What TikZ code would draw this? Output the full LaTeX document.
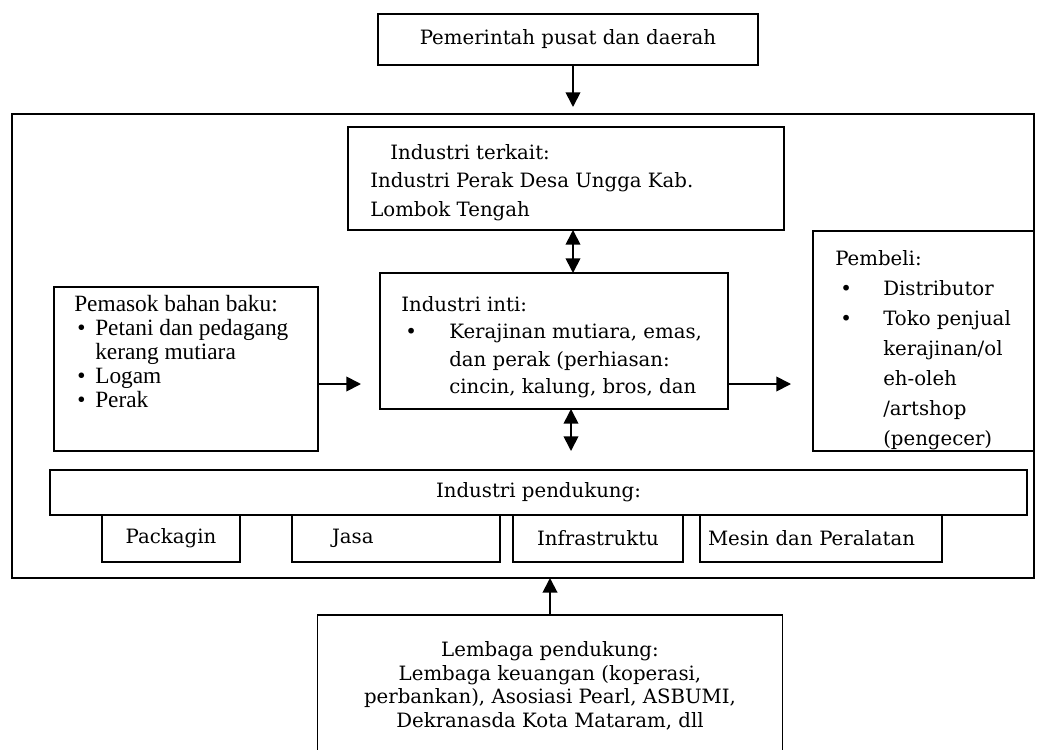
\documentclass[tikz,border=0pt]{standalone}
\usepackage{fontspec}
\setmainfont{Liberation Serif}
\newfontfamily\cambria{DejaVu Serif}
\usetikzlibrary{arrows.meta,positioning,calc}

\begin{document}
\begin{tikzpicture}[x=0.75pt,y=-0.75pt,
    blk/.style={draw,line width=1.1pt,inner sep=0pt,outer sep=0pt},
    txt/.style={inner sep=0pt,align=left,anchor=north west},
    cfont/.style={font=\cambria\fontsize{14.8pt}{#1}\selectfont},
    cfont/.default=21.5pt,
    tfont/.style={font=\fontsize{17.5pt}{18pt}\selectfont},
    arr/.style={line width=1.3pt,-{Triangle[length=11pt,width=11pt]}},
    darr/.style={line width=1.3pt,{Triangle[length=11pt,width=11pt]}-{Triangle[length=11pt,width=11pt]}}]
  \useasboundingbox (0,0) rectangle (1045,749);
  \clip (0,0) rectangle (1045,749);

  % Pemerintah
  \node[blk,cfont,minimum width=285pt,minimum height=38.25pt] (pemerintah) at (568,39.5) {Pemerintah pusat dan daerah};

  % kluster (bingkai luar)
  \node[blk,minimum width=766.5pt,minimum height=348pt] (kluster) at (523,346) {};

  % Industri terkait
  \node[blk,minimum width=327pt,minimum height=77.25pt] (terkait) at (566,178.5) {};
  \begin{scope}
    \clip (terkait.south west) rectangle (terkait.north east);
    \node[txt,cfont=21.5pt] (terkaittxt) at (370,144) {\hspace*{15pt}Industri terkait:\\Industri Perak Desa Ungga Kab.\\Lombok Tengah};
  \end{scope}

  % Industri inti
  \node[blk,minimum width=261pt,minimum height=102pt] (inti) at (554,341) {};
  \node[txt,cfont=20.6pt] (intitxt) at (401,296) {Industri inti:\\\makebox[36pt][l]{\hspace{3pt}\textbullet}Kerajinan mutiara, emas,\\\hspace*{36pt}dan perak (perhiasan:\\\hspace*{36pt}cincin, kalung, bros, dan};

  % Pemasok
  \node[blk,minimum width=198pt,minimum height=123pt] (pemasok) at (186,369) {};
  \node[txt,tfont] (pemasoktxt) at (74,295) {Pemasok bahan baku:\\\makebox[15.75pt][l]{\hspace{2.25pt}\textbullet}Petani dan pedagang\\\hspace*{15.75pt}kerang mutiara\\\makebox[15.75pt][l]{\hspace{2.25pt}\textbullet}Logam\\\makebox[15.75pt][l]{\hspace{2.25pt}\textbullet}Perak};

  % Pembeli
  \node[blk,minimum width=165.75pt,minimum height=165pt] (pembeli) at (923.5,341) {};
  \begin{scope}
    \clip (pembeli.south west) rectangle (pembeli.north east);
    \node[txt,cfont=22.5pt] (pembelitxt) at (835,250) {Pembeli:\\\makebox[36pt][l]{\hspace{3.75pt}\textbullet}Distributor\\\makebox[36pt][l]{\hspace{3.75pt}\textbullet}Toko penjual\\\hspace*{36pt}kerajinan/ol\\\hspace*{36pt}eh-oleh\\\hspace*{36pt}/artshop\\\hspace*{36pt}(pengecer)};
  \end{scope}

  % Industri pendukung
  \node[blk,cfont,minimum width=732.75pt,minimum height=33.75pt] (pendukung) at (538.5,492.5) {Industri pendukung:};
  \node[blk,cfont,minimum width=103.5pt,minimum height=35.25pt] (packaging) at (171,538.5) {Packagin};
  \node[blk,cfont,text width=156pt,minimum height=35.25pt,align=left] (jasa) at (396,538.5) {\hspace*{30pt}Jasa};
  \node[blk,cfont,minimum width=127.5pt,minimum height=35.25pt] (infra) at (598,538.5) {Infrastruktu};
  \node[blk,cfont,text width=181.5pt,minimum height=35.25pt,align=left] (mesin) at (821,538.5) {\hspace*{6pt}Mesin dan Peralatan};

  % Lembaga pendukung
  \node[blk,minimum width=348.75pt,minimum height=108.75pt] (lembaga) at (550,687.5) {};
  \node[cfont=17.8pt,inner sep=0pt,align=center,anchor=north] (lembagatxt) at (550,641) {Lembaga pendukung:\\Lembaga keuangan (koperasi,\\perbankan), Asosiasi Pearl, ASBUMI,\\Dekranasda Kota Mataram, dll};

  % panah
  \coordinate (atas) at (573,107);
  \coordinate (kiri) at (361,384);
  \coordinate (kanan) at (791,384);
  \coordinate (bawah) at (571,451);
  \coordinate (naik) at (550,578);
  \draw[arr] (pemerintah.south -| atas) -- (atas);
  \draw[darr] ([xshift=5.25pt]terkait.south) -- ([xshift=5.25pt]terkait.south |- inti.north);
  \draw[darr] (inti.south -| bawah) -- (bawah);
  \draw[arr] (pemasok.east |- kiri) -- (kiri);
  \draw[arr] (inti.east |- kanan) -- (kanan);
  \draw[arr,line width=1.5pt] (lembaga.north -| naik) -- (naik);
\end{tikzpicture}
\end{document}
